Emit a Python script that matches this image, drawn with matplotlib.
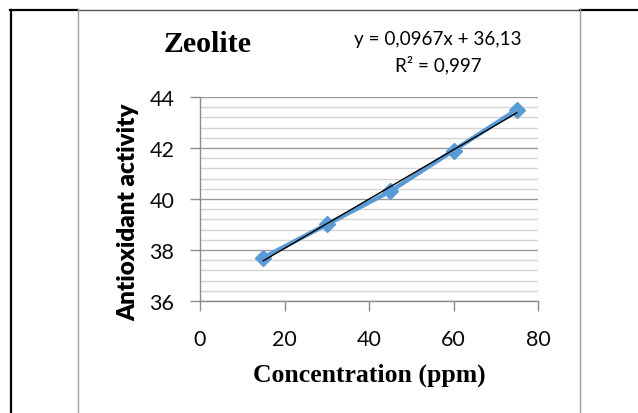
import matplotlib
matplotlib.use("Agg")
import matplotlib.pyplot as plt
import numpy as np
from matplotlib.lines import Line2D
from matplotlib.ticker import MultipleLocator

# Data
concentration = [15, 30, 45, 60, 75]
activity = [37.7, 39.0, 40.3, 41.9, 43.5]
x_ticks = [0, 20, 40, 60, 80]
y_ticks = [36, 38, 40, 42, 44]
title = "Zeolite"
equation = "y = 0,0967x + 36,13"
r2_text = "R² = 0,997"
xlabel = "Concentration (ppm)"
ylabel = "Antioxidant activity"

W, H = 638, 414
fig = plt.figure(figsize=(W / 100, H / 100), dpi=100)
fig.patch.set_facecolor("white")

def fx(px):
    return px / W

def fy(py):
    return 1 - py / H

# page decorations (frame lines)
fig.add_artist(Line2D([fx(10), fx(78)], [fy(11), fy(11)], color="black", lw=1.6))
fig.add_artist(Line2D([fx(78), fx(580)], [fy(10.5), fy(10.5)], color="#555555", lw=1.0))
fig.add_artist(Line2D([fx(580), fx(638)], [fy(11), fy(11)], color="black", lw=1.6))
fig.add_artist(Line2D([fx(11), fx(11)], [fy(11), fy(414)], color="black", lw=1.6))
fig.add_artist(Line2D([fx(78), fx(78)], [fy(10), fy(414)], color="#a0a0a0", lw=1.0))
fig.add_artist(Line2D([fx(580), fx(580)], [fy(10), fy(414)], color="#a0a0a0", lw=1.0))

left, right, top, bottom = 200, 538, 98, 302
ax = fig.add_axes([fx(left), fy(bottom), (right - left) / W, (bottom - top) / H])
ax.set_xlim(x_ticks[0], x_ticks[-1])
ax.set_ylim(y_ticks[0], y_ticks[-1])
ax.set_xticks(x_ticks)
ax.set_yticks(y_ticks)
ax.yaxis.set_minor_locator(MultipleLocator(0.4))

for s in ["top", "right"]:
    ax.spines[s].set_visible(False)
for s in ["left", "bottom"]:
    ax.spines[s].set_color("#8c8c8c")
    ax.spines[s].set_linewidth(1.0)

ax.grid(True, which="major", axis="y", color="#9a9a9a", lw=1.0)
ax.grid(True, which="minor", axis="y", color="#d4d4d4", lw=1.0)
ax.set_axisbelow(True)

ax.tick_params(axis="both", which="major", direction="out", length=7.5, width=1.0,
               color="#8c8c8c", labelsize=15.5)
ax.tick_params(axis="y", which="minor", length=0)
ax.tick_params(axis="y", pad=11)
ax.tick_params(axis="x", pad=13)
for lab in ax.get_xticklabels() + ax.get_yticklabels():
    lab.set_family("Lato")
    lab.set_color("#0a0a0a")

# series
ax.plot(concentration, activity, color="#5b9bd5", lw=3.2, marker="D", ms=8.5,
        mec="#5b9bd5", mfc="#5b9bd5", zorder=3, solid_capstyle="round")

# linear trendline
coef = np.polyfit(concentration, activity, 1)
xt = np.array([concentration[0], concentration[-1]])
ax.plot(xt, np.polyval(coef, xt), color="black", lw=1.0, zorder=4)

ax.set_xlabel(xlabel, family="Liberation Serif", weight="bold", fontsize=18.5)
ax.xaxis.set_label_coords(0.5, (bottom - 375) / (bottom - top), transform=ax.transAxes)
ax.xaxis.label.set_va("center")
ax.set_ylabel(ylabel, family="Lato", weight="heavy", fontsize=17.4)
ax.yaxis.set_label_coords((128 - left) / (right - left), (bottom - 212) / (bottom - top))
ax.yaxis.label.set_va("center")

fig.text(fx(208), fy(44), title, family="Liberation Serif", weight="bold",
         fontsize=21.5, ha="center", va="center")
fig.text(fx(438), fy(40), equation, family="Lato", fontsize=13.6, ha="center", va="center")
fig.text(fx(438), fy(65), r2_text, family="Lato", fontsize=13.6, ha="center", va="center")

fig.savefig("out.png", dpi=100)
